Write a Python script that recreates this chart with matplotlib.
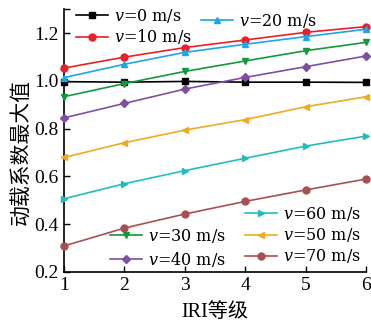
import matplotlib.pyplot as plt
from matplotlib.legend import Legend

# ── data ─────────────────────────────────────────────────────────────────
iri = [1, 2, 3, 4, 5, 6]
v0 = [0.997, 0.995, 0.998, 0.995, 0.995, 0.994]
v10 = [1.054, 1.100, 1.140, 1.172, 1.204, 1.228]
v20 = [1.014, 1.070, 1.120, 1.154, 1.186, 1.217]
v30 = [0.934, 0.989, 1.040, 1.084, 1.127, 1.162]
v40 = [0.845, 0.906, 0.966, 1.015, 1.060, 1.105]
v50 = [0.679, 0.741, 0.794, 0.838, 0.892, 0.934]
v60 = [0.506, 0.569, 0.624, 0.676, 0.727, 0.769]
v70 = [0.308, 0.383, 0.442, 0.495, 0.543, 0.589]
yticks = [0.2, 0.4, 0.6, 0.8, 1.0, 1.2, 1.3]
ytick_labels = ['0.2', '0.4', '0.6', '0.8', '1.0', '1.2', '']

serif = ['Liberation Serif', 'DejaVu Serif']
plt.rcParams['font.family'] = serif
plt.rcParams['mathtext.fontset'] = 'custom'
plt.rcParams['mathtext.it'] = 'DejaVu Serif:italic'
plt.rcParams['mathtext.rm'] = 'DejaVu Serif'

W, H = 371, 325
fig = plt.figure(figsize=(W / 100, H / 100), dpi=100)
ax = fig.add_axes([0.1725, 0.164, 0.815, 0.807])

styles = [
    (v0, '#000000', 's', '$v$=0 m/s'),
    (v10, '#e8202a', 'o', '$v$=10 m/s'),
    (v20, '#1ba6e8', '^', '$v$=20 m/s'),
    (v30, '#119a3a', 'v', '$v$=30 m/s'),
    (v40, '#7e4fa3', 'D', '$v$=40 m/s'),
    (v50, '#eeaa22', '<', '$v$=50 m/s'),
    (v60, '#22bcbc', '>', '$v$=60 m/s'),
    (v70, '#a8504f', 'o', '$v$=70 m/s'),
]
lines = []
for vals, c, m, lab in styles:
    ms = 4.5 if m == 'D' else 5
    ln, = ax.plot(iri, vals, color=c, marker=m, markersize=ms, lw=1.2,
                  label=lab, clip_on=False, zorder=3)
    lines.append(ln)

ax.set_xlim(1, 6)
ax.set_ylim(0.2, 1.3)
ax.set_xticks(iri)
ax.set_yticks(yticks)
ax.set_yticklabels(ytick_labels)
ax.tick_params(direction='in', length=4, width=1, labelsize=14, pad=4)
ax.spines['top'].set_visible(False)
ax.spines['right'].set_visible(False)
for s in ['left', 'bottom']:
    ax.spines[s].set_linewidth(1.2)

cjk = ['Noto Sans CJK SC', 'DejaVu Sans']
ax.set_xlabel('IRI等级', fontsize=14.5, family=['Liberation Serif', 'Noto Sans CJK SC'],
              labelpad=6)
ax.set_ylabel('动载系数最大值', fontsize=15, family=cjk, labelpad=2, y=0.4565)

leg_kw = dict(frameon=False, handlelength=2.0, handletextpad=0.35,
              borderpad=0, borderaxespad=0, loc='upper left',
              bbox_transform=fig.transFigure,
              prop={'family': 'DejaVu Serif', 'size': 11.5})


def px(x, y):
    return (x / W, 1 - y / H)


lg1 = Legend(ax, [lines[0], lines[1]], [styles[0][3], styles[1][3]],
             bbox_to_anchor=px(76, 7), labelspacing=0.15, **leg_kw)
lg2 = Legend(ax, [lines[2]], [styles[2][3]],
             bbox_to_anchor=px(201, 12), labelspacing=0.0, **leg_kw)
lg3 = Legend(ax, [lines[6], lines[5], lines[7]],
             [styles[6][3], styles[5][3], styles[7][3]],
             bbox_to_anchor=px(245, 205), labelspacing=0.2, **leg_kw)
lg4 = Legend(ax, [lines[3], lines[4]], [styles[3][3], styles[4][3]],
             bbox_to_anchor=px(110, 227), labelspacing=0.3, **leg_kw)
for lg in (lg1, lg2, lg3, lg4):
    ax.add_artist(lg)

fig.savefig('out.png', dpi=100)
